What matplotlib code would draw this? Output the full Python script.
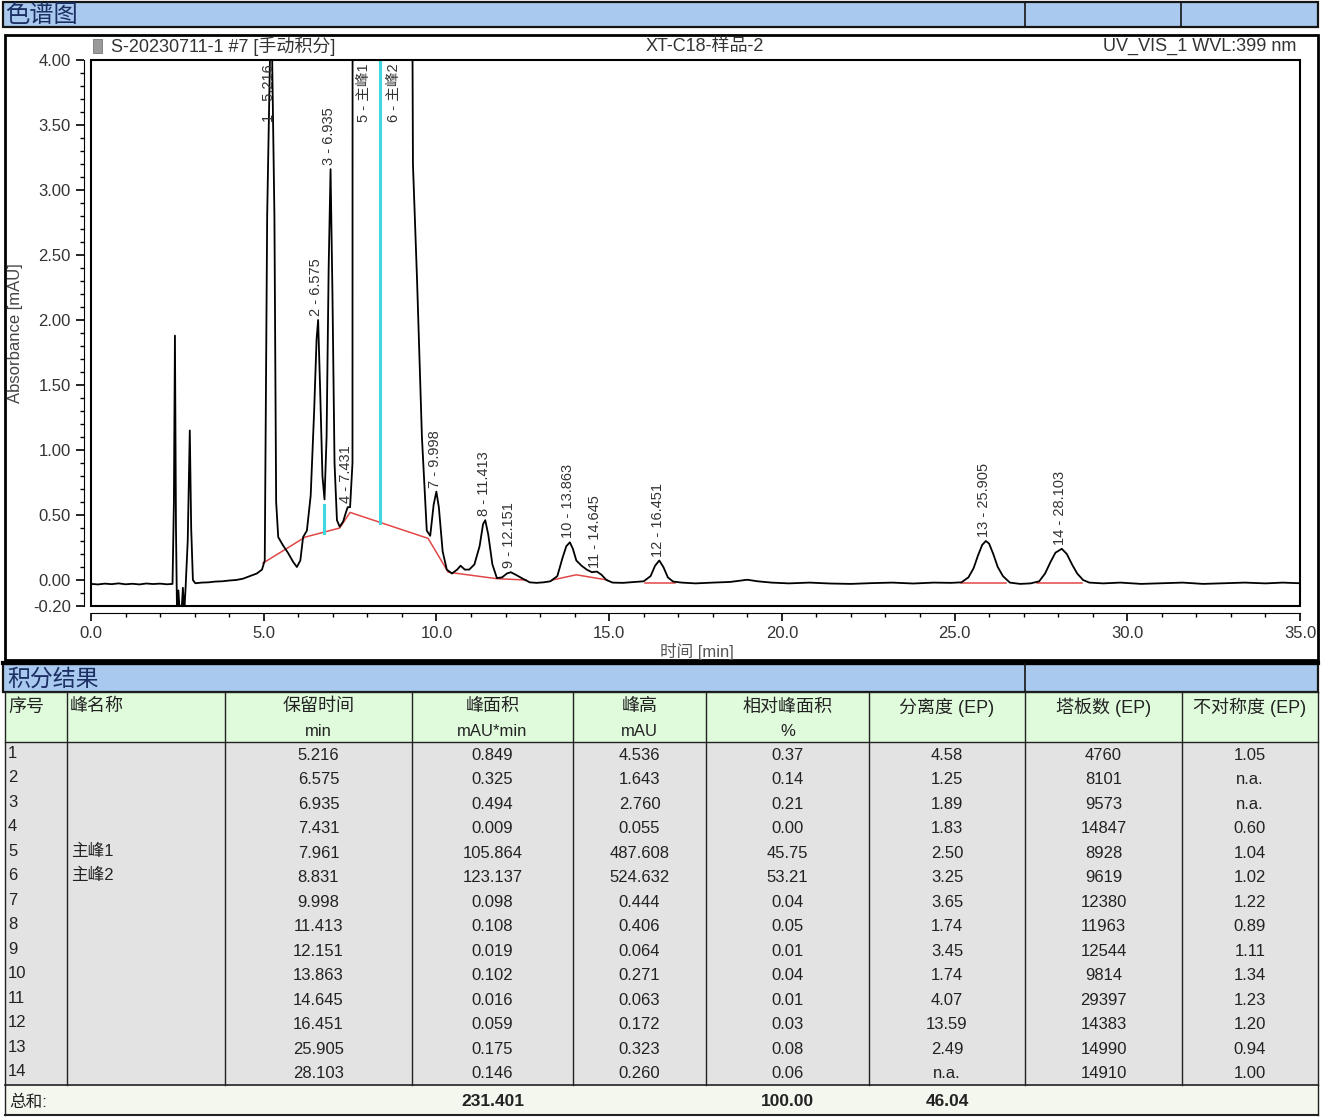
import numpy as np
import matplotlib.pyplot as plt
from matplotlib.patches import Rectangle
from matplotlib.ticker import MultipleLocator, FixedLocator

plt.rcParams["font.family"] = ["Liberation Sans", "Noto Sans CJK SC", "DejaVu Sans"]

W, H = 1330, 1117

# ---- chromatogram trace (min, mAU) ----
trace_t = [0.00, 0.20, 0.40, 0.60, 0.80, 1.00, 1.20, 1.40, 1.60, 1.80, 2.00, 2.20, 2.36,
           2.40, 2.43, 2.46, 2.49, 2.53, 2.57, 2.62, 2.66, 2.70, 2.74, 2.80, 2.86, 2.90, 2.95, 3.02,
           3.20, 3.40, 3.60, 3.80, 4.00, 4.20, 4.40, 4.60, 4.80, 4.95, 5.03,
           5.10, 5.216, 5.31, 5.36, 5.42, 5.55, 5.70, 5.85, 5.96, 6.06, 6.14, 6.25, 6.36, 6.46,
           6.53, 6.575, 6.63, 6.70, 6.76, 6.82, 6.88, 6.935, 6.99, 7.05, 7.12, 7.20, 7.30, 7.38,
           7.431, 7.50, 7.57, 7.961, 8.37, 8.831, 9.25, 9.32, 9.44, 9.58, 9.72, 9.82, 9.92,
           9.998, 10.07, 10.18, 10.30, 10.45, 10.60, 10.70, 10.82, 10.95, 11.10, 11.25, 11.35,
           11.413, 11.50, 11.62, 11.75, 11.90, 12.04, 12.151, 12.30, 12.50, 12.70, 12.90, 13.10,
           13.30, 13.50, 13.65, 13.76, 13.863, 13.95, 14.05, 14.20, 14.35, 14.50, 14.645, 14.78,
           14.92, 15.10, 15.40, 15.70, 16.00, 16.20, 16.33, 16.451, 16.57, 16.70, 16.85, 17.10,
           17.50, 18.00, 18.50, 18.80, 19.00, 19.30, 19.70, 20.20, 20.80, 21.40, 22.00, 22.60,
           23.20, 23.80, 24.40, 24.90, 25.20, 25.40, 25.55, 25.68, 25.80, 25.905, 26.00, 26.12,
           26.25, 26.40, 26.60, 26.90, 27.20, 27.45, 27.62, 27.78, 27.92, 28.103, 28.25, 28.40,
           28.55, 28.72, 28.90, 29.30, 29.80, 30.40, 31.00, 31.60, 32.20, 32.80, 33.40, 34.00,
           34.50, 35.00]
trace_y = [-0.030, -0.034, -0.028, -0.032, -0.026, -0.033, -0.029, -0.034, -0.027, -0.031, -0.028, -0.033, -0.030,
           0.60, 1.88, 0.40, -0.25, -0.08, -0.25, -0.25, -0.06, -0.25, -0.05, 0.30, 1.15, 0.40, 0.00, -0.025,
           -0.020, -0.018, -0.012, -0.010, -0.004, 0.000, 0.010, 0.030, 0.050, 0.080, 0.15,
           2.80, 4.536, 2.80, 0.60, 0.33, 0.27, 0.21, 0.14, 0.10, 0.15, 0.33, 0.38, 0.65, 1.30,
           1.85, 2.00, 1.50, 0.80, 0.62, 1.10, 2.40, 3.16, 2.20, 0.90, 0.46, 0.41, 0.45, 0.52,
           0.56, 0.56, 0.90, 487.608, 150.0, 524.632, 8.0, 3.20, 2.30, 1.10, 0.38, 0.34, 0.58,
           0.68, 0.56, 0.22, 0.08, 0.05, 0.08, 0.11, 0.08, 0.08, 0.12, 0.26, 0.43,
           0.46, 0.35, 0.12, 0.015, 0.02, 0.05, 0.06, 0.04, 0.01, -0.018, -0.022, -0.018,
           -0.010, 0.030, 0.17, 0.26, 0.29, 0.24, 0.15, 0.11, 0.08, 0.06, 0.065, 0.04,
           0.00, -0.020, -0.022, -0.016, -0.010, 0.030, 0.11, 0.15, 0.10, 0.02, -0.012, -0.020,
           -0.026, -0.020, -0.015, -0.005, 0.002, -0.010, -0.020, -0.026, -0.020, -0.027, -0.030, -0.024,
           -0.020, -0.027, -0.020, -0.022, -0.018, 0.020, 0.09, 0.19, 0.27, 0.30, 0.28, 0.20,
           0.10, 0.03, -0.020, -0.030, -0.026, -0.010, 0.05, 0.14, 0.21, 0.24, 0.20, 0.12,
           0.05, 0.000, -0.020, -0.026, -0.020, -0.030, -0.025, -0.020, -0.030, -0.025, -0.020, -0.026,
           -0.020, -0.025]

# integration baselines (red), each a polyline of (t, y)
baselines = [
    [(4.98, 0.13), (6.20, 0.33), (7.20, 0.40), (7.50, 0.52), (9.76, 0.32),
     (10.34, 0.06), (11.75, 0.01), (12.60, 0.00)],
    [(13.35, 0.00), (14.05, 0.04), (14.95, 0.00)],
    [(16.05, -0.02), (16.90, -0.02)],
    [(25.20, -0.02), (26.50, -0.02)],
    [(27.40, -0.02), (28.70, -0.02)],
]

# peak delimiters (cyan)
delim_t = [6.75, 8.37]
delim_y0 = [0.36, 0.44]
delim_y1 = [0.58, 4.20]

# ---- integration results ----
peak_no = list(range(1, 15))
peak_name = ["", "", "", "", "主峰1", "主峰2", "", "", "", "", "", "", "", ""]
ret_time = [5.216, 6.575, 6.935, 7.431, 7.961, 8.831, 9.998, 11.413, 12.151, 13.863,
            14.645, 16.451, 25.905, 28.103]
area = [0.849, 0.325, 0.494, 0.009, 105.864, 123.137, 0.098, 0.108, 0.019, 0.102,
        0.016, 0.059, 0.175, 0.146]
height = [4.536, 1.643, 2.760, 0.055, 487.608, 524.632, 0.444, 0.406, 0.064, 0.271,
          0.063, 0.172, 0.323, 0.260]
rel_area = [0.37, 0.14, 0.21, 0.00, 45.75, 53.21, 0.04, 0.05, 0.01, 0.04, 0.01, 0.03, 0.08, 0.06]
resolution = ["4.58", "1.25", "1.89", "1.83", "2.50", "3.25", "3.65", "1.74", "3.45", "1.74",
              "4.07", "13.59", "2.49", "n.a."]
plates = [4760, 8101, 9573, 14847, 8928, 9619, 12380, 11963, 12544, 9814, 29397, 14383, 14990, 14910]
asym = ["1.05", "n.a.", "n.a.", "0.60", "1.04", "1.02", "1.22", "0.89", "1.11", "1.34",
        "1.23", "1.20", "0.94", "1.00"]
total_area = "231.401"
total_rel = "100.00"
total_res = "46.04"

headers = ["序号", "峰名称", "保留时间", "峰面积", "峰高", "相对峰面积", "分离度 (EP)", "塔板数 (EP)", "不对称度 (EP)"]
units = ["", "", "min", "mAU*min", "mAU", "%", "", "", ""]

BLUE = "#a9c9ee"
NAVY = "#1b2f63"
INK = "#222222"

fig = plt.figure(figsize=(W / 100, H / 100), dpi=100)
bg = fig.add_axes([0, 0, 1, 1])
bg.set_xlim(0, W)
bg.set_ylim(H, 0)
bg.axis("off")

# top bar
bg.add_patch(Rectangle((3, 2), 1315, 25, fc=BLUE, ec="#151515", lw=1.6))
for xd in (1025, 1181):
    bg.plot([xd, xd], [2, 27], color="#151515", lw=1.2)
bg.text(5, 15, "色谱图", fontsize=17.5, color=NAVY, va="center", family=["Noto Sans CJK SC"])

# chart frame
bg.add_patch(Rectangle((5, 35), 1313, 625, fc="white", ec="black", lw=2))
bg.add_patch(Rectangle((93, 39), 9, 14, fc="#9a9a9a", ec="#777777", lw=0.6))
bg.text(111, 46, "S-20230711-1 #7 [手动积分]", fontsize=13, color="#333333", va="center")
bg.text(705, 46, "XT-C18-样品-2", fontsize=13, color="#333333", va="center", ha="center")
bg.text(1296, 46, "UV_VIS_1 WVL:399 nm", fontsize=13, color="#333333", va="center", ha="right")
bg.text(16, 333, "Absorbance [mAU]", rotation=90, fontsize=12, color="#444444",
        va="center", ha="center")
bg.text(697, 651, "时间 [min]", fontsize=12, color="#555555", va="center", ha="center")

# integration results bar
bg.add_patch(Rectangle((3, 664), 1315, 28, fc=BLUE, ec="#151515", lw=1.6))
bg.plot([3, 1318], [663, 663], color="black", lw=3)
bg.plot([1025, 1025], [664, 692], color="#151515", lw=1.2)
bg.text(7, 679, "积分结果", fontsize=16.5, color=NAVY, va="center", family=["Noto Sans CJK SC"])

# table
col_edges = [5, 67, 225, 412, 573, 706, 869, 1025, 1182, 1318]
head_top, head_bot, data_bot, tot_bot = 692, 742, 1085, 1115
row_h = (data_bot - head_bot) / len(peak_no)
bg.add_patch(Rectangle((5, head_top), 1313, head_bot - head_top, fc="#e0fbdc", ec="none"))
bg.add_patch(Rectangle((5, head_bot), 1313, data_bot - head_bot, fc="#e3e3e3", ec="none"))
bg.add_patch(Rectangle((5, data_bot), 1313, tot_bot - data_bot, fc="#f3f7ee", ec="none"))
for xe in col_edges:
    bg.plot([xe, xe], [head_top, data_bot], color=INK, lw=1)
bg.plot([5, 5], [data_bot, tot_bot], color=INK, lw=1)
bg.plot([1318, 1318], [data_bot, tot_bot], color=INK, lw=1)
for ye, lw in ((head_top, 1), (head_bot, 1), (data_bot, 1.2), (tot_bot, 1.5)):
    bg.plot([5, 1318], [ye, ye], color=INK, lw=lw)

centers = [(a + b) / 2 for a, b in zip(col_edges[:-1], col_edges[1:])]
for j, (hd, un) in enumerate(zip(headers, units)):
    if j < 2:
        bg.text(col_edges[j] + 3, 707, hd, fontsize=13, color=INK, va="center")
    else:
        bg.text(centers[j], 707, hd, fontsize=13, color=INK, va="center", ha="center")
    if un:
        bg.text(centers[j], 731, un, fontsize=12, color=INK, va="center", ha="center")

for i in range(len(peak_no)):
    yc = head_bot + row_h * (i + 0.5) + 1
    bg.text(col_edges[0] + 3, yc - 2, str(peak_no[i]), fontsize=12, color=INK, va="center")
    if peak_name[i]:
        bg.text(col_edges[1] + 4, yc - 2, peak_name[i], fontsize=12, color=INK, va="center")
    vals = [f"{ret_time[i]:.3f}", f"{area[i]:.3f}", f"{height[i]:.3f}", f"{rel_area[i]:.2f}",
            resolution[i], str(plates[i]), asym[i]]
    for j, v in enumerate(vals):
        bg.text(centers[j + 2], yc, v, fontsize=12, color=INK, va="center", ha="center")

ytot = (data_bot + tot_bot) / 2 + 2
bg.text(9, ytot, "总和:", fontsize=12, color=INK, va="center")
for j, v in ((3, total_area), (5, total_rel), (6, total_res)):
    bg.text(centers[j], ytot, v, fontsize=12.5, weight="bold", color=INK, va="center", ha="center")

# chromatogram axes
ax = fig.add_axes([91 / W, 1 - 606 / H, (1300 - 91) / W, (606 - 60) / H])
ax.set_xlim(0, 35)
ax.set_ylim(-0.2, 4.0)
ax.patch.set_alpha(0)

ax.plot(trace_t, trace_y, color="black", lw=1.3, zorder=3)
for seg in baselines:
    st, sy = zip(*seg)
    ax.plot(st, sy, color="#e04848", lw=1.1, zorder=2)
for t, y0, y1 in zip(delim_t, delim_y0, delim_y1):
    ax.plot([t, t], [y0, y1], color="#3fd8de", lw=2.2, zorder=2)

for n, name, rt in zip(peak_no, peak_name, ret_time):
    lab = f"{n} - {name}" if name else f"{n} - {rt:.3f}"
    top = min(np.interp(rt, trace_t, trace_y) + 0.03, 3.52)
    ax.text(rt - 0.05, top, lab, rotation=90, ha="center", va="bottom", fontsize=10.5,
            color="#333333", zorder=4)

for s in ("top", "right"):
    ax.spines[s].set_visible(False)
ax.spines["left"].set_position(("outward", 5))
ax.spines["bottom"].set_position(("outward", 5))
ax.add_patch(Rectangle((0, 0), 1, 1, transform=ax.transAxes, fill=False, ec="black",
                       lw=1.5, clip_on=False, zorder=5))

ax.xaxis.set_major_locator(MultipleLocator(5))
ax.xaxis.set_minor_locator(MultipleLocator(1))
ax.yaxis.set_major_locator(FixedLocator([-0.2, 0, 0.5, 1.0, 1.5, 2.0, 2.5, 3.0, 3.5, 4.0]))
ax.yaxis.set_minor_locator(MultipleLocator(0.1))
ax.xaxis.set_major_formatter(lambda v, p: f"{v:.1f}")
ax.yaxis.set_major_formatter(lambda v, p: f"{v:.2f}")
ax.tick_params(which="major", length=6, width=1.2, labelsize=12, labelcolor="#333333")
ax.tick_params(which="minor", length=3, width=1)

fig.savefig("out.png", dpi=100)
